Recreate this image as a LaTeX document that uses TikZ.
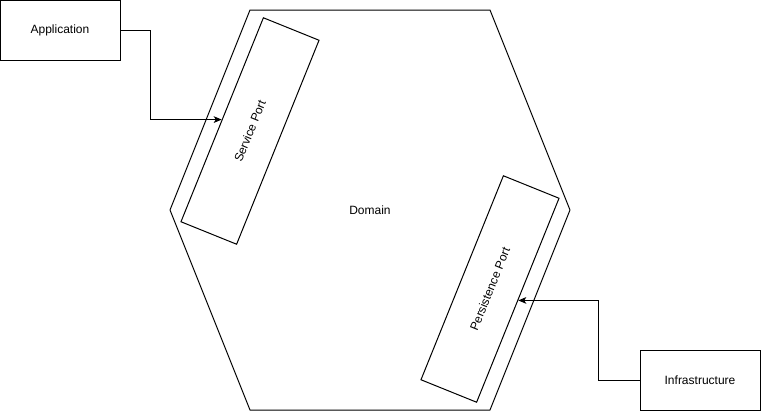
\documentclass[tikz,border=0pt]{standalone}
\usepackage{fontspec}
\setmainfont{Liberation Sans}
\usetikzlibrary{arrows.meta}

\begin{document}
\begin{tikzpicture}[x=0.75pt,y=-0.75pt,>={Stealth[length=6pt,width=5pt,inset=1.5pt]},line width=0.75pt]
    \useasboundingbox (0,0) rectangle (761,412);

    \tikzset{
        lbl/.style={font=\fontsize{9}{11}\selectfont},
        layerbox/.style={lbl,draw=black,fill=white,minimum width=90pt,minimum height=45pt,inner sep=0pt},
        portbox/.style={lbl,draw=black,fill=white,minimum width=165pt,minimum height=45pt,inner sep=0pt,rotate=68}
    }

    \draw[line join=round] (250,10) -- (490,10) -- (570,210) -- (490,410) -- (250,410) -- (170,210) -- cycle;
    \node[lbl] (dom) at (370,210) {Domain};

    \node[portbox] (sp) at (250,131) {Service Port};
    \node[portbox] (pp) at (490,289) {Persistence Port};

    \node[layerbox] (app) at (60,30) {Application};
    \node[layerbox] (infra) at (700,380) {Infrastructure};

    \draw[->] (app.east) -- ++(30,0) |- (sp.north);
    \draw[->] (infra.west) -- ++(-41,0) |- (pp.south);
\end{tikzpicture}
\end{document}
